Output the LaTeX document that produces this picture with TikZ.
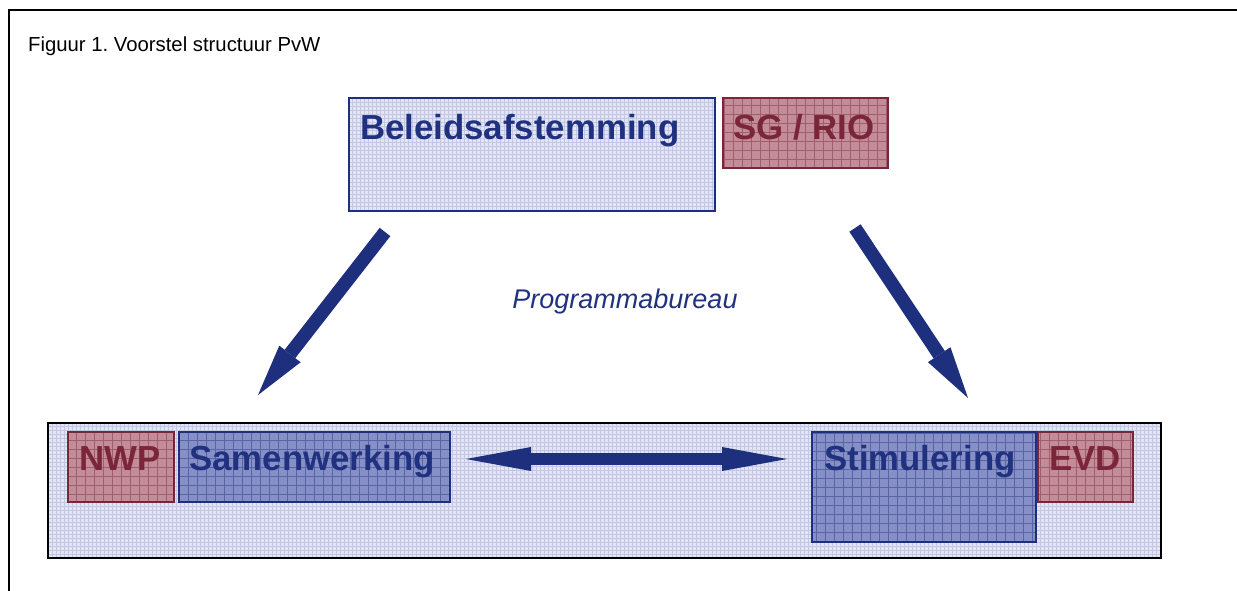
\documentclass[tikz,border=0pt]{standalone}
\usepackage{fontspec}
\setmainfont{Liberation Sans}
\usetikzlibrary{arrows.meta}
\frenchspacing
\definecolor{navy}{HTML}{1E2F7E}
\definecolor{navytext}{HTML}{203180}
\definecolor{wine}{HTML}{7B2538}
\definecolor{pinkfill}{HTML}{C28C99}
\definecolor{bluefill}{HTML}{8790C6}
\definecolor{lightfill}{HTML}{E3E5F4}
\tikzset{
  gridded/.style={path picture={\draw[#1, line width=0.6pt, opacity=0.45, step=9pt]
      ([shift={(-20pt,-20pt)}]path picture bounding box.south west) grid
      ([shift={(20pt,20pt)}]path picture bounding box.north east);}},
  finegrid/.style={path picture={\draw[#1, line width=0.4pt, opacity=0.35, step=4pt]
      ([shift={(-20pt,-20pt)}]path picture bounding box.south west) grid
      ([shift={(20pt,20pt)}]path picture bounding box.north east);}},
  boxbase/.style={draw, line width=1.6pt, inner sep=0pt, anchor=north west},
  lightbox/.style={boxbase, draw=navy, fill=lightfill, finegrid=bluefill},
  bluebox/.style={boxbase, draw=navy, fill=bluefill, gridded=navy},
  redbox/.style={boxbase, draw=wine, fill=pinkfill, gridded=wine},
  bigbox/.style={boxbase, draw=black, line width=2pt, fill=lightfill, finegrid=bluefill},
  bluelabel/.style={inner sep=0pt, text=navytext, font=\fontsize{34.8}{40}\selectfont\bfseries},
  redlabel/.style={inner sep=0pt, text=wine, font=\fontsize{34.8}{40}\selectfont\bfseries},
  blockarrow/.style={draw=navy, line width=13.5pt,
      -{Triangle[length=52pt, width=27pt, line width=0pt]}},
  twoway/.style={draw=navy, line width=12pt,
      {Triangle[length=65pt, width=24pt, line width=0pt]}-{Triangle[length=65pt, width=24pt, line width=0pt]}}
}
\begin{document}
\begin{tikzpicture}[x=1pt, y=-1pt]
\useasboundingbox (0,0) rectangle (1237,591);
\fill[white] (0,0) rectangle (1237,591);
% outer frame (top and left)
\draw[line width=2pt, black] (1237,10) -- (9,10) -- (9,591);
\node[anchor=base west, inner sep=0pt, font=\fontsize{20.3}{24}\selectfont] (title) at (28,52) {Figuur 1. Voorstel structuur PvW};

% top boxes
\node[lightbox, minimum width=366, minimum height=113] (bel) at (348,97) {};
\node[redbox, minimum width=165, minimum height=70] (sg) at (722,97) {};
\node[bluelabel, anchor=base west] (beltxt) at (360,140) {Beleidsafstemming};
\node[redlabel, anchor=base] (sgtxt) at (804,140) {SG / RIO};

% bottom container
\node[bigbox, minimum width=1113, minimum height=135] (prog) at (47,422) {};
\node[redbox, minimum width=106, minimum height=70] (nwp) at (67,431) {};
\node[bluebox, minimum width=271, minimum height=70] (sam) at (178,431) {};
\node[bluebox, minimum width=224, minimum height=110] (sti) at (811,431) {};
\node[redbox, minimum width=95, minimum height=70] (evd) at (1037,431) {};
\node[redlabel, anchor=base] (nwptxt) at (120,470) {NWP};
\node[bluelabel, anchor=base] (samtxt) at (312,470) {Samenwerking};
\node[bluelabel, anchor=base] (stitxt) at (920,470) {Stimulering};
\node[redlabel, anchor=base] (evdtxt) at (1085,470) {EVD};

% middle label
\node[anchor=base, inner sep=0pt, text=navytext, font=\fontsize{27}{32}\selectfont\itshape] (pb) at (625,308) {Programmabureau};

% arrows
\coordinate (a1s) at (385,232);
\coordinate (a1e) at (258,395);
\coordinate (a2s) at (855,228);
\coordinate (a2e) at (968,398);
\coordinate (hl) at (466,459);
\coordinate (hr) at (787,459);
\draw[blockarrow] (a1s) -- (a1e);
\draw[blockarrow] (a2s) -- (a2e);
\draw[twoway] (hl) -- (hr);
\end{tikzpicture}
\end{document}
